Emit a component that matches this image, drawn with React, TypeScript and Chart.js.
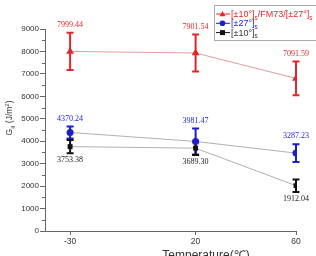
import React, { useEffect, useRef } from 'react';
import { Chart, registerables } from 'chart.js';
Chart.register(...registerables);

const temps = [-30, 20, 60];
const xTicks = [-30, 20, 60];
const yTickStep = 1000;

const redVals = [8000, 7930, 6800];
const redErr = [830, 820, 750];
const redLabels = ['7999.44', '7901.54', '7091.59'];

const blueVals = [4390, 3990, 3470];
const blueErr = [270, 580, 400];
const blueLabels = ['4370.24', '3981.47', '3287.23'];

const blackVals = [3760, 3690, 2020];
const blackErr = [300, 300, 280];
const blackLabels = ['3753.38', '3689.30', '1912.04'];

type Seg = { t: string; sub?: boolean; sup?: boolean };

function drawRich(ctx: CanvasRenderingContext2D, x: number, y: number, segs: Seg[], size: number, family: string, color: string, measureOnly = false): number {
  let cx = x;
  ctx.fillStyle = color;
  ctx.textBaseline = 'alphabetic';
  ctx.textAlign = 'left';
  for (const s of segs) {
    const sz = s.sub || s.sup ? size * 0.7 : size;
    ctx.font = `${sz}px ${family}`;
    const dy = s.sub ? size * 0.3 : s.sup ? -size * 0.4 : 0;
    if (!measureOnly) ctx.fillText(s.t, cx, y + dy);
    cx += ctx.measureText(s.t).width;
  }
  return cx - x;
}

export default function App() {
  const ref = useRef<HTMLCanvasElement>(null);
  useEffect(() => {
    document.body.style.margin = '0';
    const series = [
      { vals: redVals, err: redErr, labels: redLabels, color: '#e3262b', line: '#e59a9a', style: 'triangle', r: 4.5, above: true, legend: [{ t: '[±10°]' }, { t: 's', sub: true }, { t: '/FM73/[±27°]' }, { t: 's', sub: true }] as Seg[] },
      { vals: blueVals, err: blueErr, labels: blueLabels, color: '#1c1ccf', line: '#b0b0b0', style: 'circle', r: 3.5, above: true, legend: [{ t: '[±27°]' }, { t: 's', sub: true }] as Seg[] },
      { vals: blackVals, err: blackErr, labels: blackLabels, color: '#111111', line: '#b0b0b0', style: 'rect', r: 3.5, above: false, legend: [{ t: '[±10°]' }, { t: 's', sub: true }] as Seg[] },
    ];

    const errorPlugin = {
      id: 'errbars',
      beforeDatasetsDraw(chart: any) {
        const ctx = chart.ctx;
        const x = chart.scales.x, y = chart.scales.y;
        ctx.save();
        series.forEach((s) => {
          ctx.strokeStyle = s.color;
          ctx.lineWidth = 2;
          temps.forEach((t, i) => {
            const px = x.getPixelForValue(t);
            const top = y.getPixelForValue(s.vals[i] + s.err[i]);
            const bot = y.getPixelForValue(s.vals[i] - s.err[i]);
            ctx.beginPath();
            ctx.moveTo(px, top); ctx.lineTo(px, bot);
            ctx.moveTo(px - 3.5, top); ctx.lineTo(px + 3.5, top);
            ctx.moveTo(px - 3.5, bot); ctx.lineTo(px + 3.5, bot);
            ctx.stroke();
          });
        });
        ctx.restore();
      },
    };

    const decoPlugin = {
      id: 'deco',
      afterDraw(chart: any) {
        const ctx = chart.ctx as CanvasRenderingContext2D;
        const x = chart.scales.x, y = chart.scales.y;
        const area = chart.chartArea;
        ctx.save();
        // value labels
        ctx.font = '8px "Liberation Serif"';
        ctx.textAlign = 'center';
        ctx.textBaseline = 'middle';
        series.forEach((s) => {
          ctx.fillStyle = s.color === '#111111' ? '#222' : s.color;
          temps.forEach((t, i) => {
            const px = x.getPixelForValue(t);
            if (s.above) {
              const top = y.getPixelForValue(s.vals[i] + s.err[i]);
              ctx.fillText(s.labels[i], px, top - 8);
            } else {
              const bot = y.getPixelForValue(s.vals[i] - s.err[i]);
              ctx.fillText(s.labels[i], px, bot + 7);
            }
          });
        });
        // minor ticks
        ctx.strokeStyle = '#666';
        ctx.lineWidth = 1;
        for (let v = yTickStep / 2; v < 9000; v += yTickStep) {
          const py = Math.round(y.getPixelForValue(v)) + 0.5;
          ctx.beginPath();
          ctx.moveTo(area.left - 3, py);
          ctx.lineTo(area.left, py);
          ctx.stroke();
        }
        // y title
        ctx.save();
        ctx.translate(12, 118);
        ctx.rotate(-Math.PI / 2);
        const ySegs: Seg[] = [{ t: 'G' }, { t: 'II', sub: true }, { t: ' (J/m' }, { t: '2', sup: true }, { t: ')' }];
        const w = drawRich(ctx, 0, 0, ySegs, 8.5, '"Liberation Sans"', '#333', true);
        drawRich(ctx, -w / 2, 0, ySegs, 8.5, '"Liberation Sans"', '#333');
        ctx.restore();
        // x title
        ctx.font = '12px "Liberation Sans"';
        ctx.fillStyle = '#333';
        ctx.textAlign = 'center';
        ctx.textBaseline = 'alphabetic';
        ctx.fillText('Temperature(℃)', 206, 259);
        // legend
        ctx.fillStyle = '#fff';
        ctx.fillRect(214, 5, 110, 35);
        ctx.strokeStyle = '#aaa';
        ctx.lineWidth = 1;
        ctx.strokeRect(214.5, 5.5, 110, 35);
        series.forEach((s, k) => {
          const ly = 14 + k * 9.3;
          ctx.strokeStyle = s.color;
          ctx.lineWidth = 1;
          ctx.beginPath();
          ctx.moveTo(216, ly); ctx.lineTo(230, ly);
          ctx.stroke();
          ctx.fillStyle = s.color;
          ctx.beginPath();
          if (s.style === 'triangle') {
            ctx.moveTo(222.5, ly - 3); ctx.lineTo(225.5, ly + 2.2); ctx.lineTo(219.5, ly + 2.2); ctx.closePath();
          } else if (s.style === 'circle') {
            ctx.arc(222.5, ly, 2.8, 0, Math.PI * 2);
          } else {
            ctx.rect(220, ly - 2.5, 5, 5);
          }
          ctx.fill();
          drawRich(ctx, 231, ly + 3, s.legend, 9, '"Liberation Sans"', s.color === '#111111' ? '#333' : s.color);
        });
        ctx.restore();
      },
    };

    const chart = new Chart(ref.current!, {
      type: 'line',
      data: {
        datasets: series.map((s, k) => ({
          label: 'S' + k,
          data: temps.map((t, i) => ({ x: t, y: s.vals[i] })),
          borderColor: s.line,
          borderWidth: 1,
          pointStyle: s.style as any,
          pointRadius: s.r,
          pointBackgroundColor: s.color,
          pointBorderColor: s.color,
          pointBorderWidth: 0,
          tension: 0,
        })),
      },
      options: {
        responsive: false,
        animation: false,
        layout: { padding: { left: 0, right: 20, top: 29, bottom: 0 } },
        plugins: { legend: { display: false }, tooltip: { enabled: false } },
        scales: {
          x: {
            type: 'linear',
            min: -40,
            max: 60,
            afterBuildTicks: (s: any) => { s.ticks = xTicks.map((v) => ({ value: v })); },
            afterFit: (s: any) => { s.height = 25; },
            grid: { drawOnChartArea: false, tickLength: 4, color: '#666' },
            border: { color: '#666', width: 1 },
            ticks: { font: { family: 'Liberation Sans', size: 8.5 }, color: '#333', padding: 2, maxRotation: 0, callback: (v: any) => String(v) },
          },
          y: {
            min: 0,
            max: 9000,
            afterFit: (s: any) => { s.width = 45; },
            grid: { drawOnChartArea: false, tickLength: 5, color: '#666' },
            border: { color: '#666', width: 1 },
            ticks: { stepSize: yTickStep, font: { family: 'Liberation Sans', size: 8 }, color: '#333', padding: 1, callback: (v: any) => String(v) },
          },
        },
      },
      plugins: [errorPlugin, decoPlugin],
    });
    return () => chart.destroy();
  }, []);
  return <canvas ref={ref} width={316} height={256} style={{ display: 'block' }} />;
}
